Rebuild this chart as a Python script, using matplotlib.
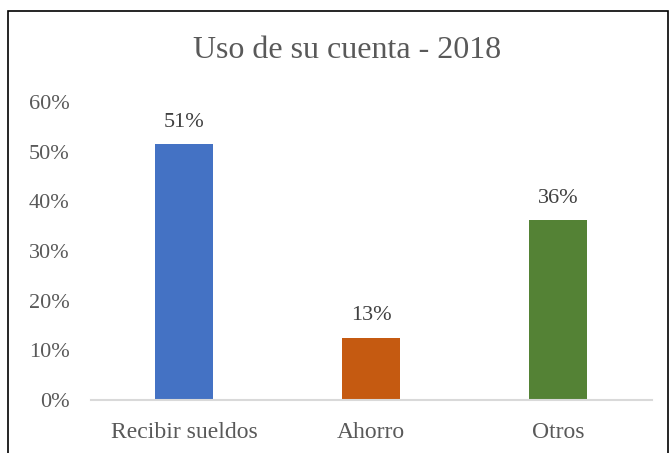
import matplotlib
matplotlib.use("Agg")
import matplotlib.pyplot as plt
from matplotlib.patches import Rectangle

categories = ["Recibir sueldos", "Ahorro", "Otros"]
values = [0.515, 0.125, 0.362]
value_labels = ["51%", "13%", "36%"]
colors = ["#4472C4", "#C55A11", "#548235"]
yticks = [0, 0.1, 0.2, 0.3, 0.4, 0.5, 0.6]
ytick_labels = ["0%", "10%", "20%", "30%", "40%", "50%", "60%"]
title = "Uso de su cuenta - 2018"

plt.rcParams['font.family'] = ['Liberation Serif', 'DejaVu Serif']
fig = plt.figure(figsize=(6.71, 4.53), dpi=100)
ax = fig.add_axes([90.5/671, 53/453, 561/671, 298/453])

x = list(range(len(categories)))
bars = ax.bar(x, values, width=0.31, color=colors, zorder=2)
for xi, v, lab in zip(x, values, value_labels):
    ax.annotate(lab, (xi, v), xytext=(0, 9), textcoords='offset points',
                ha='center', va='bottom', fontsize=16, color='#404040')

ax.set_xlim(-0.5, 2.5)
ax.set_ylim(0, 0.6)
ax.set_yticks(yticks)
ax.set_yticklabels(ytick_labels)
ax.set_xticks(x)
ax.set_xticklabels(categories)
ax.tick_params(axis='y', length=0, pad=15, labelsize=16, labelcolor='#595959')
ax.tick_params(axis='x', length=0, pad=15.5, labelsize=17, labelcolor='#595959')
for s in ['top', 'right', 'left']:
    ax.spines[s].set_visible(False)
ax.spines['bottom'].set_color('#D9D9D9')
ax.spines['bottom'].set_linewidth(1.5)

fig.text(0.5 + 12/671, 1 - 51/453, title, ha='center', va='center', fontsize=23, color='#595959')

fig.patches.append(Rectangle((8/671, -0.05), 660/671, 1.05 - 11/453, transform=fig.transFigure,
                             fill=False, edgecolor='black', linewidth=1.2))

fig.savefig("out.png", dpi=100)
